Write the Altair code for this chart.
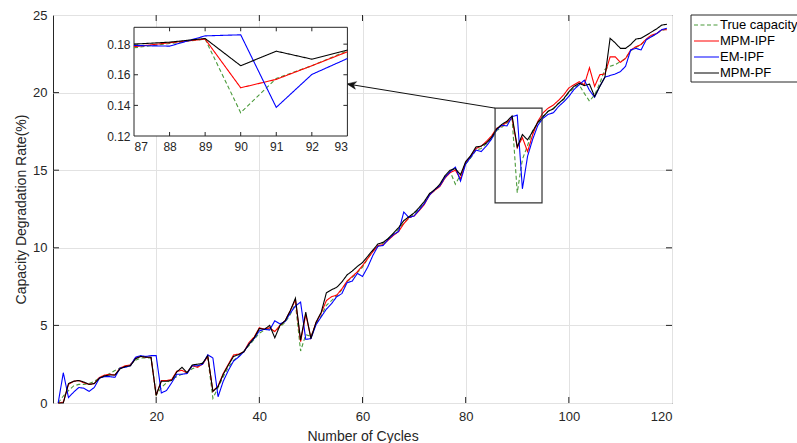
import altair as alt
import pandas as pd

# ---------------- data ----------------
cycles = list(range(1, 120))
series_names = ["True capacity", "MPM-IPF", "EM-IPF", "MPM-PF"]
series_colors = ["#4a9a3a", "#ff0000", "#0000ff", "#000000"]

true_cap = [0, 0.45, 0.8, 1.1, 1.2, 1.2, 1.25, 1.4, 1.6, 1.75,
            1.9, 2.1, 2.25, 2.35, 2.5, 2.75, 2.9, 2.9, 2.9, 0.5,
            1.0, 1.3, 1.55, 1.7, 1.85, 2.0, 2.2, 2.35, 2.6, 2.9,
            0.3, 1.0, 1.7, 2.3, 2.75, 3.0, 3.35, 3.7, 4.1, 4.5,
            4.7, 4.8, 4.6, 4.9, 5.2, 5.7, 6.4, 3.35, 4.4, 4.3,
            5.1, 5.6, 6.3, 6.6, 6.9, 7.3, 7.8, 8.1, 8.4, 8.75,
            9.3, 9.8, 10.1, 10.3, 10.6, 10.9, 11.2, 11.6, 11.9, 12.2,
            12.5, 12.9, 13.45, 13.7, 14.0, 14.5, 14.9, 14.1, 14.7, 15.4,
            15.8, 16.3, 16.4, 16.7, 17.0, 17.55, 17.76, 18.04, 18.33, 13.55,
            15.7, 16.59, 17.57, 18.0, 18.45, 18.8, 19.0, 19.3, 19.55, 20.0,
            20.3, 20.5, 19.95, 19.45, 19.85, 20.6, 21.5, 21.7, 21.8, 22.0,
            22.2, 22.7, 22.9, 23.1, 23.4, 23.6, 23.8, 24.0, 24.1]
mpm_ipf = [0, 0.05, 1.2, 1.4, 1.45, 1.3, 1.2, 1.25, 1.65, 1.8,
           1.85, 1.8, 2.25, 2.4, 2.45, 2.9, 3.0, 2.95, 2.95, 0.5,
           1.45, 1.45, 1.5, 2.05, 2.1, 1.95, 2.4, 2.3, 2.5, 3.0,
           0.75, 1.1, 1.9, 2.5, 3.1, 3.15, 3.3, 3.9, 4.25, 4.85,
           4.75, 4.85, 4.6, 5.0, 5.3, 5.95, 6.65, 3.95, 5.7, 4.2,
           5.2, 5.8, 6.6, 6.85, 6.95, 7.35, 7.85, 8.15, 8.45, 8.85,
           9.3, 9.75, 10.15, 10.2, 10.5, 10.8, 11.05, 11.55, 11.95, 12.05,
           12.4, 12.8, 13.4, 13.7, 13.95, 14.5, 14.85, 15.0, 14.45, 15.5,
           15.9, 16.4, 16.55, 16.85, 17.2, 17.7, 17.85, 18.1, 18.35, 16.45,
           17.1, 16.2, 17.3, 18.15, 18.7, 19.0, 19.2, 19.5, 19.85, 20.3,
           20.5, 20.7, 20.5, 21.6, 20.4, 21.15, 21.2, 22.3, 22.3, 21.95,
           22.2, 22.75, 22.95, 23.1, 23.45, 23.7, 23.8, 24.05, 24.05]
em_ipf = [0, 1.95, 0.35, 0.7, 1.0, 0.95, 0.75, 1.0, 1.6, 1.7,
          1.7, 1.65, 2.25, 2.3, 2.4, 2.95, 3.05, 3.0, 3.05, 3.05,
          0.65, 0.8, 1.3, 1.85, 1.85, 1.9, 2.4, 2.4, 2.5, 3.1,
          2.9, 0.4, 1.4, 2.1, 2.7, 2.97, 3.3, 3.8, 4.15, 4.65,
          4.75, 4.7, 5.3, 5.1, 5.25, 5.8, 6.25, 6.5, 4.1, 4.15,
          5.05, 5.55, 6.05, 6.4, 6.85, 7.05, 7.75, 7.85, 8.35, 8.15,
          8.75, 9.5, 10.1, 10.15, 10.55, 10.85, 11.05, 12.3, 11.95, 12.05,
          12.45, 12.85, 13.4, 13.75, 14.0, 14.55, 14.9, 15.2, 14.3, 15.4,
          15.85, 16.3, 16.2, 16.55, 17.0, 17.6, 17.9, 17.85, 18.45, 18.55,
          13.8, 15.9, 17.0, 17.9, 18.35, 18.6, 18.7, 19.1, 19.4, 19.75,
          20.2, 20.5, 20.8, 20.15, 19.7, 20.4, 21.0, 21.1, 21.2, 21.35,
          21.7, 22.75, 22.85, 22.75, 23.4, 23.6, 23.8, 24.05, 24.15]
mpm_pf = [0, 0.0, 1.25, 1.4, 1.45, 1.35, 1.2, 1.25, 1.6, 1.75,
          1.8, 1.8, 2.2, 2.35, 2.4, 2.85, 3.0, 2.95, 2.95, 0.5,
          1.4, 1.4, 1.45, 2.0, 2.3, 1.95, 2.45, 2.5, 2.55, 3.05,
          0.75, 1.05, 1.85, 2.45, 3.0, 3.12, 3.3, 3.8, 4.2, 4.8,
          4.75, 5.0, 4.2, 5.0, 5.3, 5.95, 6.75, 4.05, 5.85, 4.15,
          5.2, 5.85, 7.1, 7.3, 7.45, 7.8, 8.25, 8.5, 8.8, 9.05,
          9.45, 9.85, 10.25, 10.35, 10.6, 10.95, 11.3, 11.75, 12.0, 12.25,
          12.6, 13.0, 13.5, 13.75, 14.1, 14.65, 15.0, 15.1, 14.7, 15.55,
          15.95, 16.5, 16.55, 16.75, 17.1, 17.65, 17.95, 18.15, 18.5, 16.5,
          17.3, 16.95, 17.5, 18.1, 18.45, 18.8, 18.95, 19.3, 19.6, 20.05,
          20.4, 20.6, 20.45, 20.55, 19.75, 20.4, 21.0, 23.5, 23.2, 22.85,
          22.85, 23.1, 23.45, 23.5, 23.7, 23.9, 24.1, 24.35, 24.4]

# inset (zoomed view of cycles 87-93, as fractions)
inset_cycles = [87, 88, 89, 90, 91, 92, 93]
inset_true = [0.1776, 0.1804, 0.1833, 0.1352, 0.1576, 0.1659, 0.1757]
inset_mpm_ipf = [0.1783, 0.1809, 0.1833, 0.1515, 0.1570, 0.1659, 0.1750]
inset_em_ipf = [0.1791, 0.1787, 0.1854, 0.1861, 0.1387, 0.1602, 0.1706]
inset_mpm_pf = [0.1800, 0.1813, 0.1837, 0.1659, 0.1754, 0.1702, 0.1761]

x_ticks = [20, 40, 60, 80, 100, 120]
y_ticks = [0, 5, 10, 15, 20, 25]
inset_x_ticks = [87, 88, 89, 90, 91, 92, 93]
inset_y_ticks = [0.12, 0.14, 0.16, 0.18]

# zoom box and arrow annotation (data coordinates)
zoom_box = {"x0": [85.7], "x1": [94.8], "y0": [12.9], "y1": [19.0]}
arrow = {"x0": [85.7], "y0": [19.0], "x1": [57.0], "y1": [20.56]}

# ---------------- layout ----------------
W, H = 619, 388
FONT = "Liberation Sans"
TXT = "#262626"
INSET_X = [81, 294.4]
INSET_Y = [121, 12.3]
INSET_YDOM = [0.12, 0.191]

xs = alt.Scale(domain=[0, 120], nice=False, zero=False)
ys = alt.Scale(domain=[0, 25], nice=False, zero=False)
x_axis = alt.Axis(values=x_ticks, title="Number of Cycles", ticks=False, domain=False,
                  grid=True, gridColor="#e2e2e2", labelFontSize=13, labelFont=FONT,
                  labelColor=TXT, labelPadding=7, titleFontSize=14, titleFont=FONT,
                  titleFontWeight="normal", titleColor=TXT, titlePadding=6)
y_axis = alt.Axis(values=y_ticks, title="Capacity Degradation Rate(%)", ticks=False, domain=False,
                  grid=True, gridColor="#e2e2e2", labelFontSize=13, labelFont=FONT,
                  labelColor=TXT, labelPadding=6, titleFontSize=14, titleFont=FONT,
                  titleFontWeight="normal", titleColor=TXT, titlePadding=4)

def MX(f):
    return alt.X(f, scale=xs, axis=x_axis)

def MY(f):
    return alt.Y(f, scale=ys, axis=y_axis)

ixs = alt.Scale(domain=[inset_cycles[0], inset_cycles[-1]], range=INSET_X, nice=False, zero=False)
iys = alt.Scale(domain=INSET_YDOM, range=INSET_Y, nice=False, zero=False)
ix_axis = alt.Axis(values=inset_x_ticks, orient="bottom", offset=INSET_Y[0] - H, title=None,
                   ticks=False, domain=False, grid=False, labelFontSize=12, labelFont=FONT,
                   labelColor=TXT, labelPadding=5, format="d")
iy_axis = alt.Axis(values=inset_y_ticks, orient="left", offset=-INSET_X[0], title=None,
                   ticks=False, domain=False, grid=False, labelFontSize=12, labelFont=FONT,
                   labelColor=TXT, labelPadding=4, format=".2f")

def IX(f):
    return alt.X(f, scale=ixs, axis=ix_axis)

def IY(f):
    return alt.Y(f, scale=iys, axis=iy_axis)

# ---------------- main plot ----------------
main_df = pd.DataFrame({"cycle": cycles, series_names[0]: true_cap, series_names[1]: mpm_ipf,
                        series_names[2]: em_ipf, series_names[3]: mpm_pf})
long_df = main_df.melt("cycle", var_name="series", value_name="rate")

main_layers = []
for name, col in zip(series_names, series_colors):
    dash = [4, 2.5] if name == "True capacity" else [1, 0]
    main_layers.append(
        alt.Chart(long_df).transform_filter(alt.datum.series == name)
        .mark_line(color=col, strokeWidth=1.1, strokeDash=dash)
        .encode(x=MX("cycle:Q"), y=MY("rate:Q"))
    )

box = alt.Chart(pd.DataFrame(zoom_box)).mark_rect(fillOpacity=0, stroke="#333333", strokeWidth=1.2).encode(
    x=MX("x0:Q"), x2="x1:Q", y=MY("y0:Q"), y2="y1:Q")
arrow_line = alt.Chart(pd.DataFrame(arrow)).mark_rule(color="#111111", strokeWidth=1).encode(
    x=MX("x0:Q"), x2="x1:Q", y=MY("y0:Q"), y2="y1:Q")
arrow_head = alt.Chart(pd.DataFrame(arrow)).mark_point(
    shape="M0,0 L1,-0.42 L0.72,0 L1,0.42 Z", filled=True, fill="#111111", stroke="#111111",
    strokeWidth=0.5, size=330, angle=9.5, opacity=1).encode(x=MX("x1:Q"), y=MY("y1:Q"))

TL = 6
xt = pd.DataFrame({"t": x_ticks[:-1]})
yt = pd.DataFrame({"t": y_ticks[1:-1]})
tick_layers = [
    alt.Chart(xt).mark_rule(color=TXT, strokeWidth=1).encode(x=MX("t:Q"), y=alt.value(H), y2=alt.value(H - TL)),
    alt.Chart(xt).mark_rule(color=TXT, strokeWidth=1).encode(x=MX("t:Q"), y=alt.value(0), y2=alt.value(TL)),
    alt.Chart(yt).mark_rule(color=TXT, strokeWidth=1).encode(y=MY("t:Q"), x=alt.value(0), x2=alt.value(TL)),
    alt.Chart(yt).mark_rule(color=TXT, strokeWidth=1).encode(y=MY("t:Q"), x=alt.value(W), x2=alt.value(W - TL)),
]

# legend (manual, MATLAB style)
LX, LY = 638, 0
legend_layers = [
    alt.Chart(pd.DataFrame({"series": ["box"]})).mark_rect(fill="white", stroke=TXT, strokeWidth=1).encode(
        x=alt.value(LX), x2=alt.value(LX + 130), y=alt.value(LY), y2=alt.value(LY + 67))
]
for i, (name, col) in enumerate(zip(series_names, series_colors)):
    yy = LY + 10 + 16 * i
    dash = [4, 2.5] if name == "True capacity" else [1, 0]
    ldf = pd.DataFrame({"series": [name]})
    legend_layers.append(alt.Chart(ldf).mark_rule(color=col, strokeWidth=1.1, strokeDash=dash).encode(
        x=alt.value(LX + 3), x2=alt.value(LX + 28), y=alt.value(yy)))
    legend_layers.append(alt.Chart(ldf).mark_text(align="left", baseline="middle", font=FONT,
                                                  fontSize=13, color="#000000").encode(
        x=alt.value(LX + 29), y=alt.value(yy), text="series:N"))

main = alt.layer(*main_layers, box, arrow_line, arrow_head, *tick_layers, *legend_layers)

# ---------------- inset ----------------
inset_df = pd.DataFrame({"cycle": inset_cycles, series_names[0]: inset_true, series_names[1]: inset_mpm_ipf,
                         series_names[2]: inset_em_ipf, series_names[3]: inset_mpm_pf})
inset_long = inset_df.melt("cycle", var_name="series", value_name="rate")

inset_bg = alt.Chart(pd.DataFrame({"x0": [inset_cycles[0]], "x1": [inset_cycles[-1]],
                                   "y0": [INSET_YDOM[0]], "y1": [INSET_YDOM[1]]})).mark_rect(
    fill="white", stroke=TXT, strokeWidth=1).encode(x=IX("x0:Q"), x2="x1:Q", y=IY("y0:Q"), y2="y1:Q")

inset_layers = [inset_bg]
for name, col in zip(series_names, series_colors):
    dash = [4, 2.5] if name == "True capacity" else [1, 0]
    inset_layers.append(
        alt.Chart(inset_long).transform_filter(alt.datum.series == name)
        .mark_line(color=col, strokeWidth=1.1, strokeDash=dash)
        .encode(x=IX("cycle:Q"), y=IY("rate:Q"))
    )
ITL = 4
ixt = pd.DataFrame({"t": inset_x_ticks[1:-1]})
iyt = pd.DataFrame({"t": inset_y_ticks[1:]})
inset_layers += [
    alt.Chart(ixt).mark_rule(color=TXT, strokeWidth=1).encode(x=IX("t:Q"), y=alt.value(INSET_Y[0]), y2=alt.value(INSET_Y[0] - ITL)),
    alt.Chart(ixt).mark_rule(color=TXT, strokeWidth=1).encode(x=IX("t:Q"), y=alt.value(INSET_Y[1]), y2=alt.value(INSET_Y[1] + ITL)),
    alt.Chart(iyt).mark_rule(color=TXT, strokeWidth=1).encode(y=IY("t:Q"), x=alt.value(INSET_X[0]), x2=alt.value(INSET_X[0] + ITL)),
    alt.Chart(iyt).mark_rule(color=TXT, strokeWidth=1).encode(y=IY("t:Q"), x=alt.value(INSET_X[1]), x2=alt.value(INSET_X[1] - ITL)),
]
inset = alt.layer(*inset_layers)

chart = alt.layer(main, inset).resolve_scale(x="independent", y="independent").properties(
    width=W, height=H,
    autosize=alt.AutoSizeParams(type="none"),
    padding={"left": 53, "top": 15, "right": 125, "bottom": 40},
    background="white",
).configure_view(stroke=TXT, strokeWidth=1)

chart.save("out.html", embed_options={"renderer": "svg", "actions": False})
